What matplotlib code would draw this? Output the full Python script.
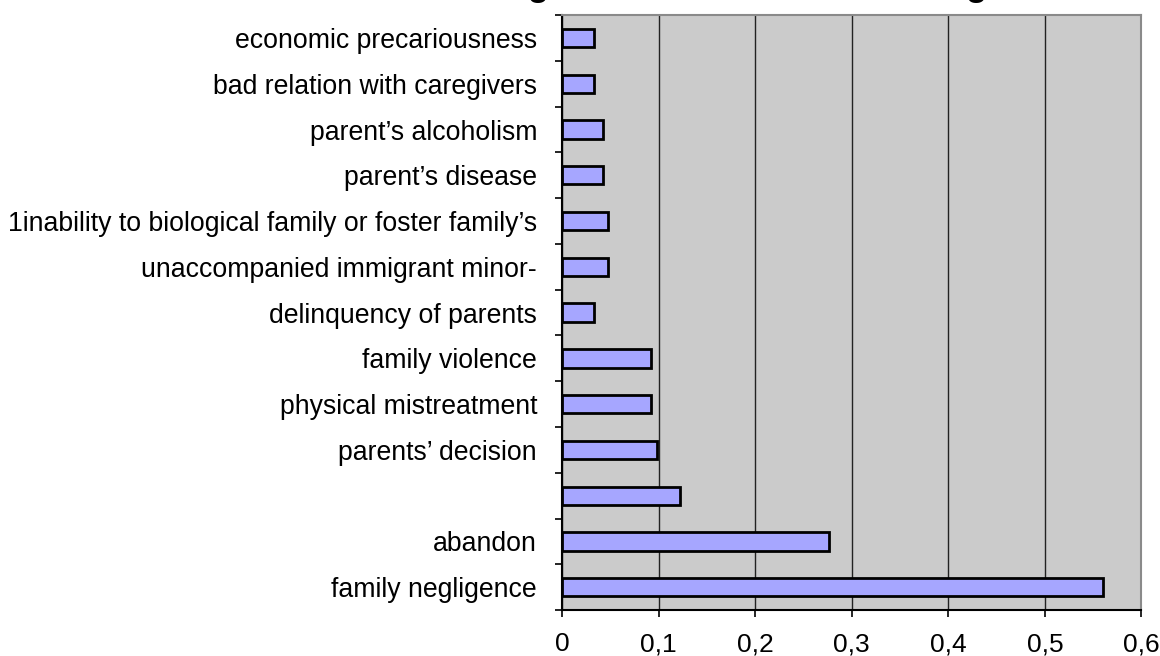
import matplotlib
matplotlib.use("Agg")
import matplotlib.pyplot as plt
import numpy as np

plt.rcParams['font.family'] = ['Liberation Sans', 'DejaVu Sans']

# bottom to top, as drawn
categories = [
    "family negligence",
    "abandon",
    "",
    "parents\u2019 decision",
    "physical mistreatment",
    "family violence",
    "delinquency of parents",
    "unaccompanied immigrant minor-",
    "1inability to biological family or foster family\u2019s",
    "parent\u2019s disease",
    "parent\u2019s alcoholism",
    "bad relation with caregivers",
    "economic precariousness",
]
values = [0.56, 0.276, 0.122, 0.098, 0.092, 0.092, 0.033,
          0.048, 0.048, 0.042, 0.042, 0.033, 0.033]
xticks = [0, 0.1, 0.2, 0.3, 0.4, 0.5, 0.6]
xtick_labels = ["0", "0,1", "0,2", "0,3", "0,4", "0,5", "0,6"]

fig = plt.figure(figsize=(11.6, 6.56), dpi=100)
ax = fig.add_axes([0.4845, 0.07, 0.4995, 0.907])

y = np.arange(len(categories))
ax.barh(y, values, height=0.4, color="#A6A6FF", edgecolor="black",
        linewidth=2, zorder=3)

ax.set_facecolor("#CBCBCB")
ax.set_xlim(0, 0.6)
ax.set_ylim(-0.5, len(categories) - 0.5)

ax.set_xticks(xticks)
ax.set_xticklabels(xtick_labels, fontsize=19)
ax.xaxis.grid(True, color="#222222", linewidth=1, zorder=1)
ax.set_axisbelow(True)

# category labels centred, ticks on the boundaries
ax.set_yticks(y)
ax.set_yticklabels(categories, fontsize=19.2)
ax.tick_params(axis="y", length=0, pad=18)
ax.set_yticks(np.arange(len(categories) + 1) - 0.5, minor=True)
ax.tick_params(axis="y", which="minor", length=5, width=1.2, color="black")
ax.tick_params(axis="x", length=5, width=1.2, pad=11)

for side in ("top", "right"):
    ax.spines[side].set_color("#8A8A8A")
    ax.spines[side].set_linewidth(1.5)
for side in ("left", "bottom"):
    ax.spines[side].set_color("black")
    ax.spines[side].set_linewidth(1.5)

# title sits mostly above the top edge, as in the source image
fig.text(0.64, 1.006, "Figure 4: reasons of fostering", ha="center",
         va="baseline", fontsize=25, fontweight="bold")

fig.savefig("out.png", dpi=100)
